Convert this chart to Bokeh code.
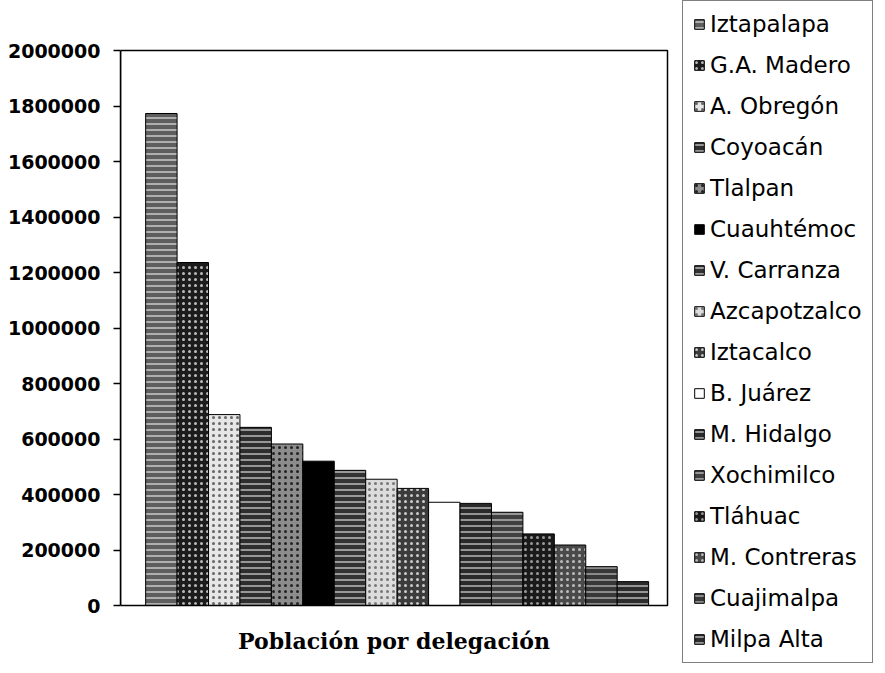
from bokeh.plotting import figure
from bokeh.models import (Range1d, FixedTicker, BasicTickFormatter, Legend, LegendItem,
                          Label, BoxAnnotation, ColumnDataSource)
from bokeh.embed import file_html
from bokeh.resources import INLINE

# ---- data ----
districts = ["Iztapalapa", "G.A. Madero", "A. Obregón", "Coyoacán", "Tlalpan",
             "Cuauhtémoc", "V. Carranza", "Azcapotzalco", "Iztacalco", "B. Juárez",
             "M. Hidalgo", "Xochimilco", "Tláhuac", "M. Contreras", "Cuajimalpa",
             "Milpa Alta"]
population = [1773000, 1236000, 688000, 642000, 582000, 520000, 487000, 455000,
              422000, 372000, 368000, 336000, 258000, 218000, 140000, 86000]
y_ticks = [0, 200000, 400000, 600000, 800000, 1000000, 1200000, 1400000,
           1600000, 1800000, 2000000]
y_max = 2000000
chart_title = "Población por delegación"

# ---- styles (scanned grey patterns) ----
fills = ["#5e5e5e", "#1c1c1c", "#e6e6e6", "#2e2e2e", "#8c8c8c", "#000000",
         "#333333", "#dcdcdc", "#3c3c3c", "#ffffff", "#2a2a2a", "#404040",
         "#1a1a1a", "#4a4a4a", "#383838", "#2c2c2c"]
hatches = ["-", ".", ".", "-", ".", " ", "-", ".", ".", " ", "-", "-", ".", ".", "-", "-"]
hatch_colors = ["#ffffff", "#bbbbbb", "#666666", "#ffffff", "#222222", "#000000",
                "#ffffff", "#777777", "#cccccc", "#000000", "#ffffff", "#eeeeee",
                "#999999", "#bbbbbb", "#dddddd", "#ffffff"]

# ---- layout geometry (pixels) ----
W, H = 885, 673
BOX_L, BOX_R, BOX_T, BOX_B = 120, 667, 50, 605   # plot-area box
GAP_L, GAP_R = 0.8, 0.6                           # empty space each side, in bar widths
TITLE_Y = 640                                     # title centre

n = len(districts)
u = (BOX_R - BOX_L) / (n + GAP_L + GAP_R)
x_start = -0.5 - GAP_L
x_box_end = n - 0.5 + GAP_R
x_end = x_start + (W - BOX_L) / u
ypx = (BOX_B - BOX_T) / y_max
y_start = -(H - BOX_B) / ypx
y_end = y_max + BOX_T / ypx

source = ColumnDataSource(dict(pos=list(range(n)), name=districts, value=population,
                               fill=fills, hatch=hatches, hcolor=hatch_colors))

p = figure(width=W, height=H, x_range=Range1d(x_start, x_end),
           y_range=Range1d(y_start, y_end), x_axis_location=None,
           title_location=None, output_backend="svg", toolbar_location=None,
           min_border_left=BOX_L, min_border_right=0, min_border_top=0,
           min_border_bottom=0)
p.background_fill_color = "white"
p.border_fill_color = "white"
p.outline_line_color = None
p.grid.grid_line_color = None

r = p.vbar(x="pos", top="value", width=1.0, source=source, fill_color="fill",
           line_color="black", line_width=1, hatch_pattern="hatch",
           hatch_color="hcolor", hatch_scale=6, hatch_weight=1)

# plot-area frame
p.add_layout(BoxAnnotation(left=x_start, right=x_box_end, bottom=0, top=y_max,
                           fill_alpha=0, line_color="black", line_width=1.5,
                           line_alpha=1))

yax = p.yaxis[0]
yax.ticker = FixedTicker(ticks=y_ticks, minor_ticks=[])
yax.bounds = (0, y_max)
yax.formatter = BasicTickFormatter(use_scientific=False)
yax.major_label_text_font = "DejaVu Sans"
yax.major_label_text_font_style = "bold"
yax.major_label_text_font_size = "19px"
yax.major_label_text_color = "black"
yax.major_tick_out = 7
yax.major_tick_in = 0
yax.minor_tick_out = 0
yax.minor_tick_in = 0
yax.major_label_standoff = 13
yax.axis_line_color = "black"
yax.axis_line_width = 1.5
yax.major_tick_line_color = "black"
yax.major_tick_line_width = 1.5

p.add_layout(Label(x=(x_start + x_box_end) / 2, y=-(TITLE_Y - BOX_B) / ypx,
                   text=chart_title, text_align="center", text_baseline="middle",
                   text_font="DejaVu Serif", text_font_style="bold",
                   text_font_size="22px", text_color="black"))

items = [LegendItem(label=nm, renderers=[r], index=i) for i, nm in enumerate(districts)]
legend = Legend(items=items, location=(562, 10), margin=0, padding=10,
                spacing=15, glyph_width=12, glyph_height=12, label_standoff=5,
                label_text_font="DejaVu Sans", label_text_font_size="23px",
                label_text_color="black", border_line_color="black",
                border_line_width=1, background_fill_color="white",
                background_fill_alpha=1)
p.add_layout(legend)

open("out.html", "w").write(file_html(p, INLINE))
